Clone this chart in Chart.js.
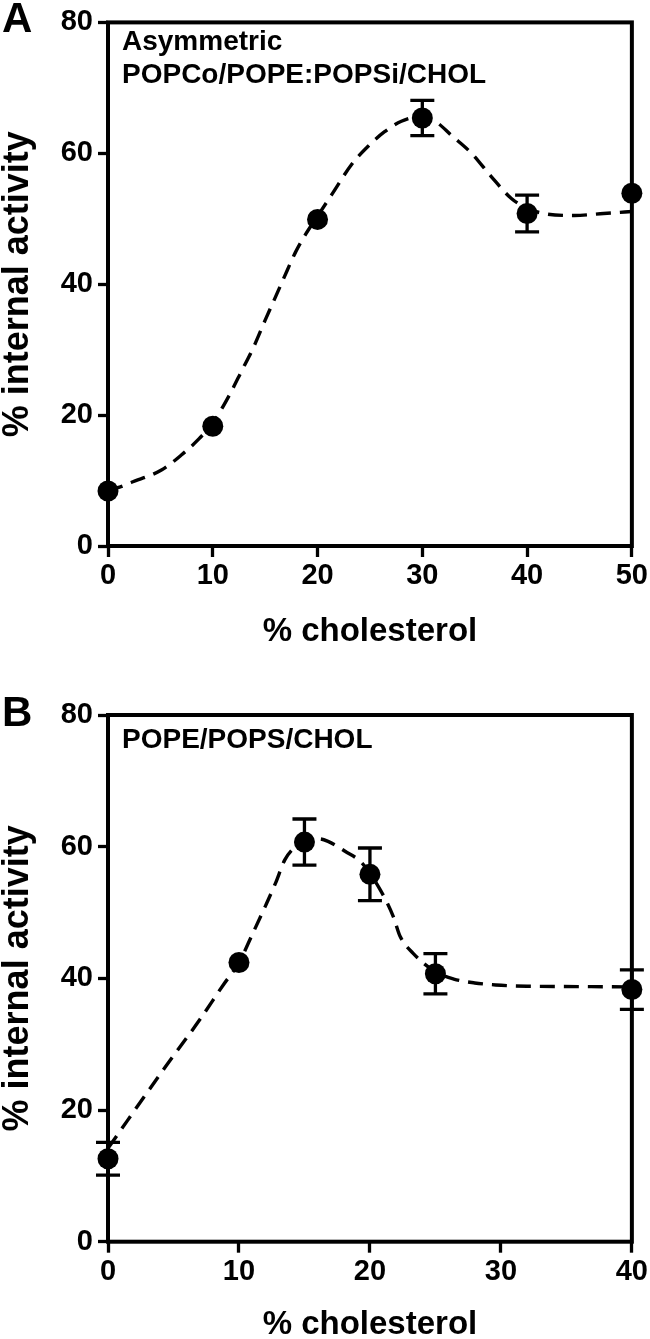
<!DOCTYPE html>
<html>
<head>
<meta charset="utf-8">
<script src="https://cdn.jsdelivr.net/npm/chart.js@4"></script>
<style>
  html, body { margin: 0; padding: 0; background: #fff; overflow: hidden; }
  .panel { position: absolute; left: 0; width: 650px; }
  #panelA { top: 0; height: 648px; }
  #panelB { top: 648px; height: 700px; }
</style>
</head>
<body>
<div class="panel" id="panelA"><canvas id="chartA" width="650" height="648"></canvas></div>
<div class="panel" id="panelB"><canvas id="chartB" width="650" height="700"></canvas></div>
<script>
const FONT = "'Liberation Sans', Arial, Helvetica, sans-serif";

// Panel A: asymmetric POPCo/POPE:POPSi/CHOL
const cholA = [0, 10, 20, 30, 40, 50];
const activityA = [8.4, 18.3, 49.9, 65.4, 50.8, 53.9];
const semA = [0, 0, 0, 2.7, 2.8, 0];
// dashed fit
const fitXA = [0, 1.1, 2.2, 5.1, 7.0, 8.7, 10, 11.6, 12.8, 13.9, 15.0, 16.0, 17.1, 17.9, 18.7, 20, 21.4, 23.3, 24.9, 26.4, 28.0, 29.8, 31.3, 32.8, 34.7, 36.6, 38.5, 40, 41.6, 44.5, 47.3, 50];
const fitYA = [8.6, 9.0, 9.7, 11.6, 13.9, 16.4, 18.8, 23.1, 26.9, 30.4, 34.5, 38.1, 42.1, 44.9, 47.2, 50.4, 53.8, 58.4, 61.2, 63.3, 64.9, 65.6, 64.8, 62.7, 60.0, 56.4, 53.1, 51.6, 50.8, 50.5, 50.8, 51.1];
const xTicksA = [0, 10, 20, 30, 40, 50];

// Panel B: POPE/POPS/CHOL
const cholB = [0, 10, 15, 20, 25, 40];
const activityB = [12.6, 42.4, 60.7, 55.8, 40.7, 38.3];
const semB = [2.5, 0, 3.5, 4.0, 3.05, 3.0];
const fitXB = [0, 4.4, 7.0, 8.8, 10, 11.0, 12.0, 12.8, 13.5, 14.2, 15.0, 16.1, 16.8, 18.1, 19.4, 20.8, 21.8, 22.3, 23.3, 25, 26.4, 28, 29.6, 32, 35.9, 40];
const fitYB = [14.2, 26.6, 33.7, 39.0, 42.4, 46.6, 50.9, 54.5, 58.0, 59.8, 60.8, 61.2, 60.8, 59.3, 57.5, 53.4, 49.3, 46.4, 43.8, 41.0, 39.9, 39.3, 39.0, 38.8, 38.75, 38.7];
const xTicksB = [0, 10, 20, 30, 40];

const yTicks = [0, 20, 40, 60, 80];

// error bars drawn through the chart scales
const errorBars = {
  id: "errorBars",
  afterDatasetsDraw(chart, args, opts) {
    const { ctx, scales: { x, y } } = chart;
    ctx.save();
    ctx.strokeStyle = "#000";
    ctx.lineWidth = 3.3;
    opts.xs.forEach((v, i) => {
      const e = opts.err[i];
      if (!e) return;
      const px = x.getPixelForValue(v);
      const top = y.getPixelForValue(opts.ys[i] + e);
      const bot = y.getPixelForValue(opts.ys[i] - e);
      ctx.beginPath();
      ctx.moveTo(px, top);
      ctx.lineTo(px, bot);
      ctx.moveTo(px - 12, top);
      ctx.lineTo(px + 12, top);
      ctx.moveTo(px - 12, bot);
      ctx.lineTo(px + 12, bot);
      ctx.stroke();
    });
    ctx.restore();
  },
};

// box around the plot area
const frame = {
  id: "frame",
  beforeDatasetsDraw(chart) {
    const { ctx, chartArea: a } = chart;
    ctx.save();
    ctx.strokeStyle = "#000";
    ctx.lineWidth = 4;
    ctx.strokeRect(a.left, a.top, a.right - a.left, a.bottom - a.top);
    ctx.restore();
  },
};

// panel letter and composition label
const texts = {
  id: "texts",
  afterDraw(chart, args, opts) {
    const ctx = chart.ctx;
    ctx.save();
    ctx.fillStyle = "#000";
    ctx.textAlign = "left";
    ctx.textBaseline = "alphabetic";
    opts.items.forEach((t) => {
      ctx.font = "bold " + t.size + "px " + FONT;
      ctx.fillText(t.text, t.x, t.y);
    });
    ctx.restore();
  },
};

function makeChart(id, cfg) {
  const tickFont = { family: FONT, size: 29, weight: "bold" };
  return new Chart(document.getElementById(id), {
    type: "line",
    data: {
      datasets: [
        {
          data: cfg.fitX.map((v, i) => ({ x: v, y: cfg.fitY[i] })),
          borderColor: "#000",
          borderWidth: 3.4,
          borderDash: [15, 9],
          pointRadius: 0,
          fill: false,
          cubicInterpolationMode: "monotone",
          clip: false,
          order: 2,
        },
        {
          data: cfg.xs.map((v, i) => ({ x: v, y: cfg.ys[i] })),
          showLine: false,
          pointRadius: 10.5,
          pointBackgroundColor: "#000",
          pointBorderWidth: 0,
          clip: false,
          order: 1,
        },
      ],
    },
    options: {
      responsive: false,
      animation: false,
      events: [],
      layout: { padding: { left: 0, right: 15, top: cfg.top, bottom: 0 } },
      plugins: {
        legend: { display: false },
        tooltip: { enabled: false },
        errorBars: { xs: cfg.xs, ys: cfg.ys, err: cfg.err },
        texts: { items: cfg.texts },
      },
      scales: {
        x: {
          type: "linear",
          min: 0,
          max: cfg.xTicks[cfg.xTicks.length - 1],
          afterFit: (s) => { s.height = cfg.xHeight; },
          afterBuildTicks: (s) => { s.ticks = cfg.xTicks.map((v) => ({ value: v })); },
          ticks: { color: "#000", font: tickFont, padding: 2, maxRotation: 0 },
          grid: { drawOnChartArea: false, drawTicks: true, tickLength: 11, tickWidth: 3.3, tickColor: "#000" },
          border: { display: false },
          title: {
            display: true,
            text: "% cholesterol",
            color: "#000",
            font: { family: FONT, size: 33, weight: "bold", lineHeight: 1 },
            padding: { top: 0, bottom: cfg.titlePad },
          },
        },
        y: {
          min: 0,
          max: 80,
          afterFit: (s) => { s.width = 108; },
          afterBuildTicks: (s) => { s.ticks = yTicks.map((v) => ({ value: v })); },
          ticks: { color: "#000", font: tickFont, padding: 5 },
          grid: { drawOnChartArea: false, drawTicks: true, tickLength: 10, tickWidth: 3.3, tickColor: "#000" },
          border: { display: false },
          title: {
            display: true,
            text: "% internal activity",
            color: "#000",
            font: { family: FONT, size: 36, weight: "bold", lineHeight: 1 },
            padding: { top: 0, bottom: 0 },
          },
        },
      },
    },
    plugins: [frame, errorBars, texts],
  });
}

makeChart("chartA", {
  xs: cholA, ys: activityA, err: semA,
  fitX: fitXA, fitY: fitYA, xTicks: xTicksA,
  top: 22, xHeight: 102, titlePad: 0,
  texts: [
    { text: "A", x: 2, y: 32, size: 42 },
    { text: "Asymmetric", x: 122, y: 50, size: 28 },
    { text: "POPCo/POPE:POPSi/CHOL", x: 122, y: 83, size: 28 },
  ],
});

makeChart("chartB", {
  xs: cholB, ys: activityB, err: semB,
  fitX: fitXB, fitY: fitYB, xTicks: xTicksB,
  top: 67, xHeight: 106.3, titlePad: 7,
  texts: [
    { text: "B", x: 2, y: 78, size: 42 },
    { text: "POPE/POPS/CHOL", x: 122, y: 100, size: 28 },
  ],
});
</script>
</body>
</html>
